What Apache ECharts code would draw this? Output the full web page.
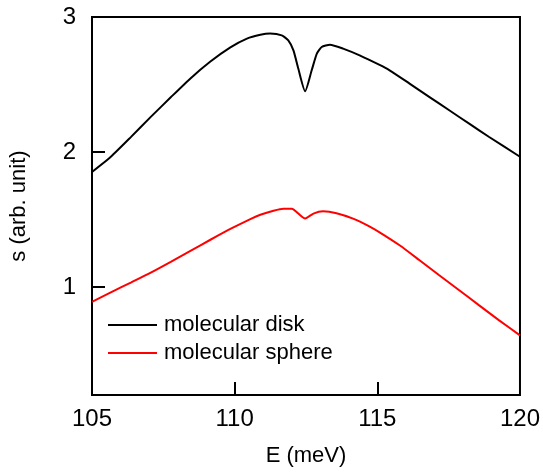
<!DOCTYPE html>
<html>
<head>
<meta charset="utf-8">
<script src="https://cdn.jsdelivr.net/npm/echarts@6/dist/echarts.min.js"></script>
<style>
  html, body { margin: 0; padding: 0; background: #fff; }
  #chart { width: 543px; height: 473px; }
</style>
</head>
<body>
<div id="chart"></div>
<script>
// Spectra: energy E (meV) against s (arb. unit)
const energyDisk = [105.0, 105.66, 106.36, 107.06, 107.76, 108.45, 109.15, 109.85, 110.43, 110.9,
  111.24, 111.65, 111.88, 112.06, 112.23, 112.47, 112.7, 112.88, 113.05, 113.34, 113.8, 114.38,
  115.08, 115.43, 116.13, 116.83, 117.52, 118.22, 118.92, 120.0];
const sDisk = [1.852, 1.965, 2.11, 2.26, 2.405, 2.545, 2.67, 2.775, 2.84, 2.868,
  2.877, 2.864, 2.827, 2.753, 2.618, 2.45, 2.605, 2.729, 2.778, 2.795, 2.766, 2.716,
  2.645, 2.605, 2.507, 2.407, 2.309, 2.21, 2.111, 1.965];

const energySphere = [105.0, 105.66, 106.36, 107.06, 107.76, 108.45, 109.15, 109.85, 110.55, 110.9,
  111.36, 111.71, 112.0, 112.47, 112.76, 113.1, 113.57, 114.15, 114.67, 115.08, 115.78, 116.48,
  117.17, 117.87, 118.57, 119.27, 120.0];
const sSphere = [0.89, 0.96, 1.033, 1.107, 1.187, 1.268, 1.35, 1.43, 1.503, 1.535,
  1.565, 1.58, 1.58, 1.507, 1.544, 1.561, 1.547, 1.507, 1.455, 1.405, 1.309, 1.198,
  1.087, 0.976, 0.864, 0.753, 0.642];

const xTicks = [105, 110, 115, 120];
const yTicks = [1, 2, 3];
const xInnerTicks = [110, 115];
const yInnerTicks = [1, 2];

const seriesNames = ['molecular disk', 'molecular sphere'];

const pairs = (xs, ys) => xs.map((x, i) => [x, ys[i]]);

const FONT = '"Liberation Sans", Arial, sans-serif';

const chart = echarts.init(document.getElementById('chart'), null, { renderer: 'canvas' });
chart.setOption({
  animation: false,
  backgroundColor: '#fff',
  grid: {
    left: 92, right: 22, top: 17, bottom: 78,
    show: true, borderColor: '#000', borderWidth: 2, backgroundColor: 'transparent'
  },
  xAxis: {
    type: 'value', min: 105, max: 120,
    name: 'E (meV)', nameLocation: 'middle', nameGap: 50,
    nameTextStyle: { fontFamily: FONT, fontSize: 22, color: '#000' },
    axisLine: { show: false },
    splitLine: { show: false },
    axisTick: { show: true, inside: true, length: 13, customValues: xInnerTicks,
      lineStyle: { color: '#000', width: 2 } },
    axisLabel: { customValues: xTicks, margin: 12, fontFamily: FONT, fontSize: 24, color: '#000' }
  },
  yAxis: {
    type: 'value', min: 0.2, max: 3,
    name: 's (arb. unit)', nameLocation: 'middle', nameGap: 62, nameRotate: 90,
    nameTextStyle: { fontFamily: FONT, fontSize: 22, color: '#000' },
    axisLine: { show: false },
    splitLine: { show: false },
    axisTick: { show: true, inside: true, length: 13, customValues: yInnerTicks,
      lineStyle: { color: '#000', width: 2 } },
    axisLabel: { customValues: yTicks, margin: 16, fontFamily: FONT, fontSize: 24, color: '#000' }
  },
  legend: {
    orient: 'vertical', left: 108, top: 314, padding: 0,
    itemWidth: 49, itemHeight: 14, itemGap: 6,
    icon: 'path://M0,6 L49,6 L49,8 L0,8 Z',
    textStyle: { fontFamily: FONT, fontSize: 22, color: '#000', lineHeight: 20, padding: [0, 0, 0, 2] },
    data: seriesNames
  },
  series: [
    {
      name: seriesNames[0], type: 'line', data: pairs(energyDisk, sDisk),
      symbol: 'none', smooth: 0.2,
      lineStyle: { color: '#000', width: 2 }, itemStyle: { color: '#000' }
    },
    {
      name: seriesNames[1], type: 'line', data: pairs(energySphere, sSphere),
      symbol: 'none', smooth: 0.2,
      lineStyle: { color: '#ff0000', width: 2 }, itemStyle: { color: '#ff0000' }
    }
  ]
});
</script>
</body>
</html>
